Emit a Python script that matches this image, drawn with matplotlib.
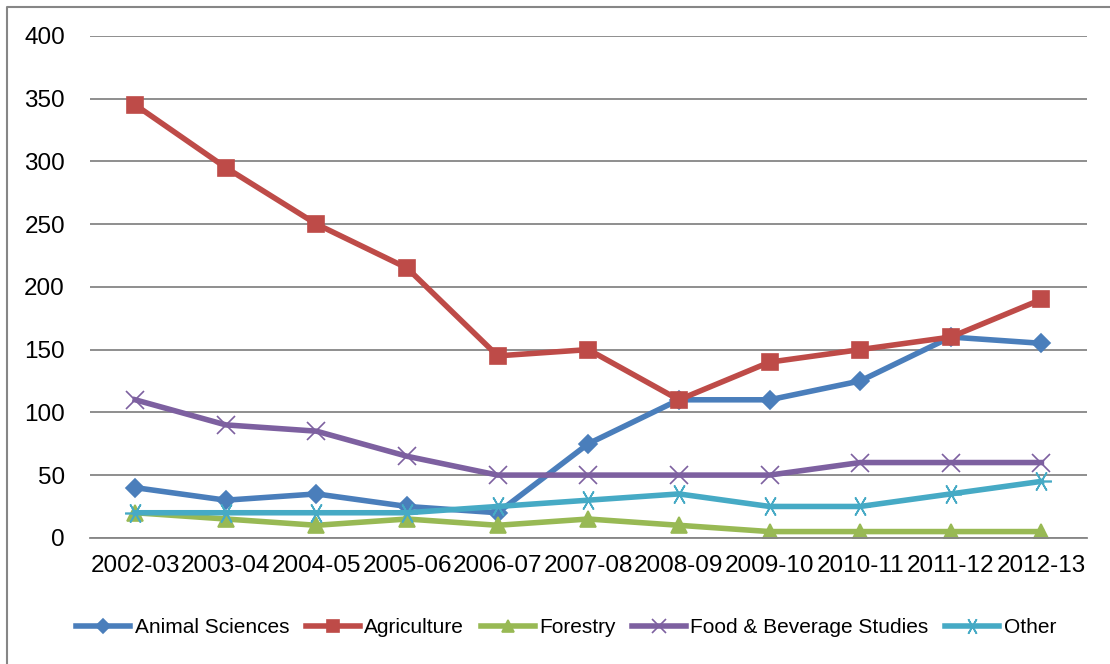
import numpy as np
import matplotlib
matplotlib.use("Agg")
import matplotlib.pyplot as plt
from matplotlib.lines import Line2D

plt.rcParams['font.family'] = ['Liberation Sans', 'DejaVu Sans']

years = ['2002-03', '2003-04', '2004-05', '2005-06', '2006-07', '2007-08',
         '2008-09', '2009-10', '2010-11', '2011-12', '2012-13']
animal = [40, 30, 35, 25, 20, 75, 110, 110, 125, 160, 155]
agriculture = [345, 295, 250, 215, 145, 150, 110, 140, 150, 160, 190]
forestry = [20, 15, 10, 15, 10, 15, 10, 5, 5, 5, 5]
food = [110, 90, 85, 65, 50, 50, 50, 50, 60, 60, 60]
other = [20, 20, 20, 20, 25, 30, 35, 25, 25, 35, 45]

series = [
    ('Animal Sciences', animal, '#4A7EBB', 'D', 9),
    ('Agriculture', agriculture, '#BE4B48', 's', 11),
    ('Forestry', forestry, '#98B954', '^', 11),
    ('Food & Beverage Studies', food, '#7D60A0', 'x', 13),
    ('Other', other, '#46AAC5', (6, 2, 90), 15),
]

fig = plt.figure(figsize=(11.1, 6.64), dpi=100)
ax = fig.add_axes([0.081, 0.19, 0.898, 0.756])

x = np.arange(len(years))
for name, vals, col, mk, ms in series:
    ax.plot(x, vals, color=col, lw=4, marker=mk, markersize=ms,
            markeredgecolor=col, markerfacecolor=col, markeredgewidth=1.2,
            label=name)

ax.set_xlim(-0.5, len(years) - 0.5)
ax.set_ylim(0, 400)
ax.set_yticks(range(0, 401, 50))
ax.set_xticks(x)
ax.set_xticklabels(years)
ax.grid(axis='y', color='#868686', lw=1.3)
ax.set_axisbelow(True)
for s in ['left', 'right', 'top']:
    ax.spines[s].set_visible(False)
ax.spines['bottom'].set_color('#868686')
ax.spines['bottom'].set_linewidth(1.3)
ax.tick_params(axis='both', length=0, labelsize=17.5)
ax.tick_params(axis='x', pad=12)
ax.tick_params(axis='y', pad=18)

fig.legend(loc='center', bbox_to_anchor=(0.51, 0.055), ncol=5, frameon=False,
           fontsize=15, handlelength=2.6, columnspacing=0.8, handletextpad=0.2,
           markerscale=0.8)

# chart border (only left and top edges are visible in the crop)
fig.add_artist(Line2D([0.0063, 0.0063, 1.0], [0.0, 0.9895, 0.9895],
                      color='#868686', lw=1.5, transform=fig.transFigure))

fig.savefig('out.png', dpi=100)
